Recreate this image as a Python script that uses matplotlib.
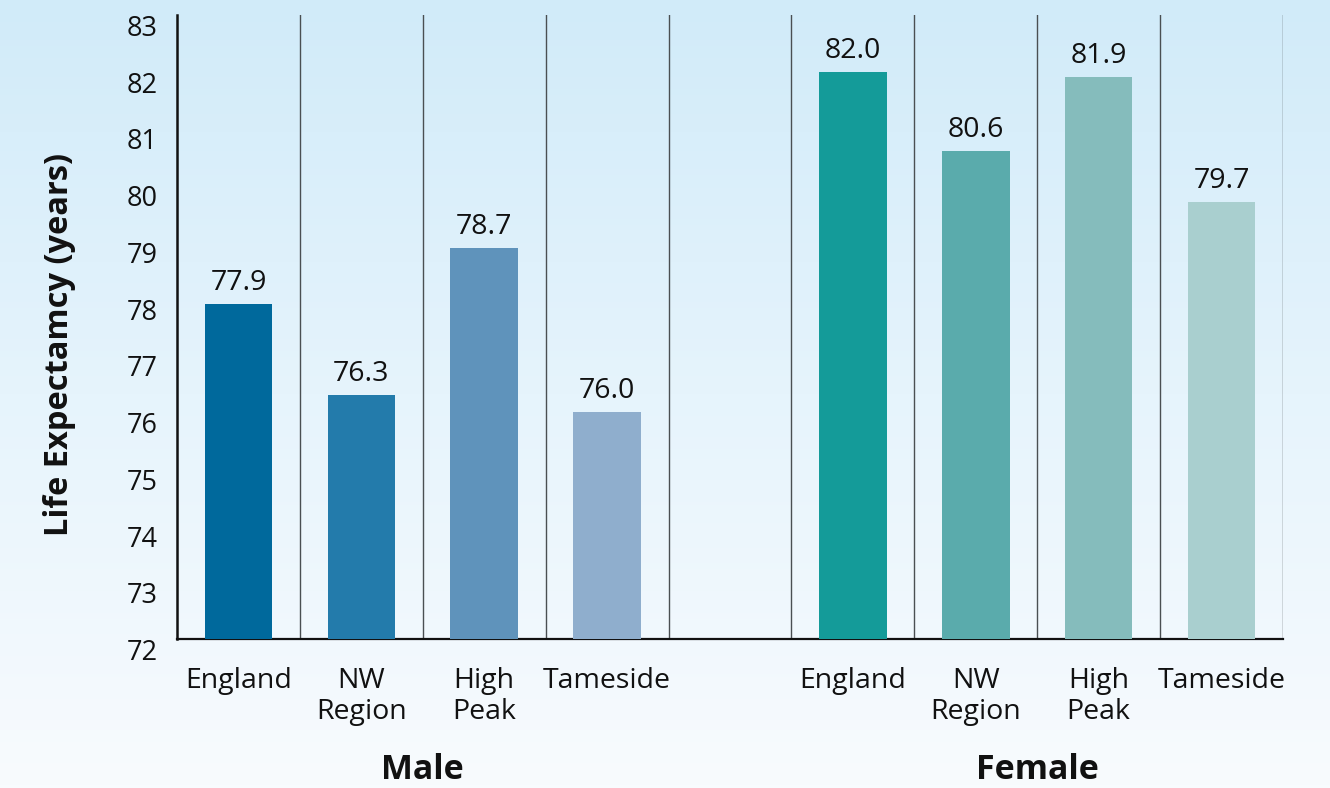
import numpy as np
import matplotlib
matplotlib.use("Agg")
import matplotlib.pyplot as plt
from matplotlib import transforms
from matplotlib.colors import LinearSegmentedColormap

# ---- data ----
categories = ["England", "NW\nRegion", "High\nPeak", "Tameside"]
groups = ["Male", "Female"]
male_values = [77.9, 76.3, 78.9, 76.0]          # bar heights as drawn
male_labels = ["77.9", "76.3", "78.7", "76.0"]   # printed values
female_values = [82.0, 80.6, 81.9, 79.7]
female_labels = ["82.0", "80.6", "81.9", "79.7"]
male_colors = ["#00699c", "#237bab", "#5f93bb", "#8faecd"]
female_colors = ["#149b99", "#5aabac", "#85bcbc", "#a9cfcf"]
yticks = list(range(72, 84))

plt.rcParams['font.family'] = ['Open Sans', 'DejaVu Sans']

W, H, DPI = 1330, 788, 100
fig = plt.figure(figsize=(W / DPI, H / DPI), dpi=DPI)

# gradient background
bg = fig.add_axes([0, 0, 1, 1], zorder=-10)
cmap = LinearSegmentedColormap.from_list("bg", ["#d1ebf9", "#e6f4fc", "#f8fbfe"])
grad = np.linspace(0, 1, 256).reshape(-1, 1)
bg.imshow(grad, aspect='auto', cmap=cmap, extent=[0, 1, 0, 1], origin='upper')
bg.axis('off')

left, right = 177 / W, 1283 / W
bottom, top = 1 - 639 / H, 1 - 15 / H
ax = fig.add_axes([left, bottom, right - left, top - bottom])
ax.set_facecolor('none')

n = len(categories)
male_x = np.arange(n)
female_x = np.arange(n) + n + 1
bw = 0.55
ax.bar(male_x, np.array(male_values) - 72, bottom=72, width=bw, color=male_colors, zorder=3)
ax.bar(female_x, np.array(female_values) - 72, bottom=72, width=bw, color=female_colors, zorder=3)

for x, v, lab in list(zip(male_x, male_values, male_labels)) + list(zip(female_x, female_values, female_labels)):
    ax.annotate(lab, (x, v), xytext=(0, 5), textcoords='offset points',
                ha='center', va='bottom', fontsize=20.5, color='#111111')

ax.set_xlim(-0.5, 2 * n + 0.5)
ax.set_ylim(72, 83)

# separators
for xs in np.arange(0.5, 2 * n + 1, 1.0):
    ax.axvline(xs, color='#4a4f52', lw=1.0, zorder=2)

for s in ['top', 'right']:
    ax.spines[s].set_visible(False)
ax.spines['left'].set_linewidth(1.8)
ax.spines['bottom'].set_linewidth(1.6)
ax.spines['left'].set_color('#111111')
ax.spines['bottom'].set_color('#111111')

ax.set_yticks(yticks)
ax.set_yticklabels([str(t) for t in yticks], fontsize=19.5, color='#111111')
ax.tick_params(axis='y', length=0, pad=14)
off = transforms.ScaledTranslation(0, -10.5 / DPI, fig.dpi_scale_trans)
for lab in ax.get_yticklabels():
    lab.set_transform(lab.get_transform() + off)

ax.set_xticks(list(male_x) + list(female_x))
ax.set_xticklabels(categories + categories, fontsize=20.5, color='#111111', linespacing=1.13)
ax.tick_params(axis='x', length=0, pad=20.5)

trans = transforms.blended_transform_factory(ax.transData, fig.transFigure)
ax.text(np.mean(male_x), 1 - 770 / H, groups[0], transform=trans, ha='center', va='center',
        fontsize=24.5, fontweight='bold', color='#111111')
ax.text(np.mean(female_x), 1 - 770 / H, groups[1], transform=trans, ha='center', va='center',
        fontsize=24.5, fontweight='bold', color='#111111')

fig.text(60 / W, 1 - 345 / H, "Life Expectamcy (years)", rotation=90, ha='center', va='center',
         fontsize=23.5, fontweight='bold', color='#111111')

fig.savefig("out.png", dpi=DPI)
